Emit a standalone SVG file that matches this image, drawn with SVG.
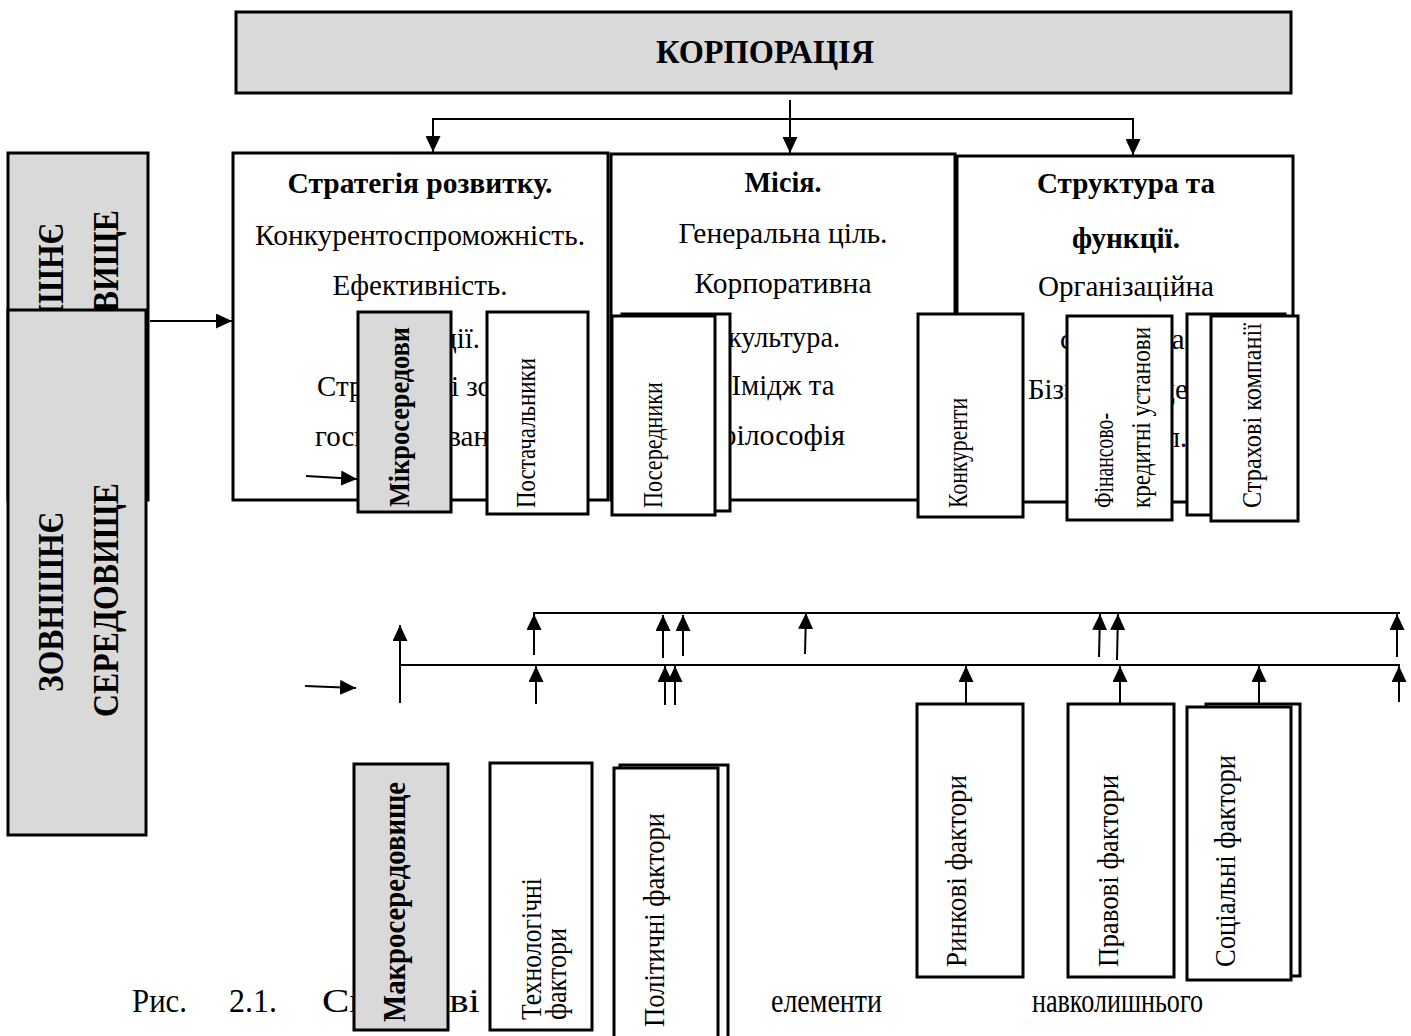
<svg xmlns="http://www.w3.org/2000/svg" width="1411" height="1036" viewBox="0 0 1411 1036">
<defs>
<marker id="ah" markerUnits="userSpaceOnUse" markerWidth="16" markerHeight="15" refX="16" refY="7.5" orient="auto">
<path d="M0,0 L16,7.5 L0,15 z" fill="#000"/>
</marker>
<style>
.bx{fill:#fff;stroke:#000;stroke-width:3}
.gx{fill:#d9d9d9;stroke:#000;stroke-width:3}
.t{font-family:"Liberation Serif","Times New Roman",serif;font-size:30px;fill:#000}
.b{font-weight:bold}
.c{text-anchor:middle}
.cap{font-size:34px}
.big{font-size:35px}
.r{font-family:"Liberation Serif","Times New Roman",serif;font-size:28px;fill:#000}
.r2{font-family:"Liberation Serif","Times New Roman",serif;font-size:29px;fill:#000}
.ln{stroke:#000;stroke-width:2;fill:none}
.ar{stroke:#000;stroke-width:2;fill:none;marker-end:url(#ah)}
</style>
</defs>
<rect width="1411" height="1036" fill="#fff"/>

<g id="caption">
<text class="t cap" x="132" y="1012" textLength="55" lengthAdjust="spacingAndGlyphs">Рис.</text>
<text class="t cap" x="229" y="1012" textLength="48" lengthAdjust="spacingAndGlyphs">2.1.</text>
<text class="t cap" x="322" y="1012" textLength="158" lengthAdjust="spacingAndGlyphs">Складові</text>
<text class="t cap" x="771" y="1012" textLength="111" lengthAdjust="spacingAndGlyphs">елементи</text>
<text class="t cap" x="1032" y="1012" textLength="171" lengthAdjust="spacingAndGlyphs">навколишнього</text>
</g>

<g id="korporatsiia">
<rect class="gx" x="236" y="12" width="1055" height="81"/>
<text class="t b c cap" x="765" y="63" textLength="218" lengthAdjust="spacingAndGlyphs">КОРПОРАЦІЯ</text>
</g>

<g id="env-upper">
<rect class="gx" x="8" y="153" width="140" height="347"/>
<text class="t b big" transform="translate(63,403) rotate(-90)" textLength="180" lengthAdjust="spacingAndGlyphs">ЗОВНІШНЄ</text>
<text class="t b big" transform="translate(118,444) rotate(-90)" textLength="234" lengthAdjust="spacingAndGlyphs">СЕРЕДОВИЩЕ</text>
</g>

<g id="strategy">
<rect class="bx" x="233" y="153" width="375" height="347"/>
<text class="t b c" x="420" y="193" textLength="265" lengthAdjust="spacingAndGlyphs">Стратегія розвитку.</text>
<text class="t c" x="420" y="245" textLength="330" lengthAdjust="spacingAndGlyphs">Конкурентоспроможність.</text>
<text class="t c" x="420" y="295" textLength="175" lengthAdjust="spacingAndGlyphs">Ефективність.</text>
<text class="t c" x="420" y="348" textLength="120" lengthAdjust="spacingAndGlyphs">Інновації.</text>
<text class="t c" x="420" y="396" textLength="206" lengthAdjust="spacingAndGlyphs">Стратегічні зони</text>
<text class="t c" x="420" y="446" textLength="210" lengthAdjust="spacingAndGlyphs">господарювання.</text>
</g>

<g id="mission">
<rect class="bx" x="611" y="154" width="344" height="346"/>
<text class="t b c" x="783" y="192" textLength="77" lengthAdjust="spacingAndGlyphs">Місія.</text>
<text class="t c" x="783" y="243" textLength="209" lengthAdjust="spacingAndGlyphs">Генеральна ціль.</text>
<text class="t c" x="783" y="293" textLength="177" lengthAdjust="spacingAndGlyphs">Корпоративна</text>
<text class="t c" x="784" y="347" textLength="112" lengthAdjust="spacingAndGlyphs">культура.</text>
<text class="t c" x="783" y="395" textLength="103" lengthAdjust="spacingAndGlyphs">Імідж та</text>
<text class="t c" x="781" y="445" textLength="128" lengthAdjust="spacingAndGlyphs">філософія</text>
</g>

<g id="structure">
<rect class="bx" x="957" y="156" width="336" height="346"/>
<text class="t b c" x="1126" y="193" textLength="178" lengthAdjust="spacingAndGlyphs">Структура та</text>
<text class="t b c" x="1126" y="248" textLength="108" lengthAdjust="spacingAndGlyphs">функції.</text>
<text class="t c" x="1126" y="296" textLength="176" lengthAdjust="spacingAndGlyphs">Організаційна</text>
<text class="t c" x="1126" y="349" textLength="132" lengthAdjust="spacingAndGlyphs">структура.</text>
<text class="t c" x="1126" y="399" textLength="196" lengthAdjust="spacingAndGlyphs">Бізнес-процеси.</text>
<text class="t c" x="1126" y="447" textLength="122" lengthAdjust="spacingAndGlyphs">Персонал.</text>
</g>

<g id="env-lower">
<rect class="gx" x="8" y="310" width="138" height="525"/>
<text class="t b big" transform="translate(63,692) rotate(-90)" textLength="180" lengthAdjust="spacingAndGlyphs">ЗОВНІШНЄ</text>
<text class="t b big" transform="translate(118,717) rotate(-90)" textLength="234" lengthAdjust="spacingAndGlyphs">СЕРЕДОВИЩЕ</text>
</g>

<g id="micro">
<rect class="gx" x="358" y="312" width="93" height="200"/>
<text class="t b" transform="translate(409,507) rotate(-90)" textLength="180" lengthAdjust="spacingAndGlyphs">Мікросередови</text>
</g>
<g id="suppliers">
<rect class="bx" x="487" y="312" width="101" height="202"/>
<text class="r" transform="translate(535,508) rotate(-90)" textLength="150" lengthAdjust="spacingAndGlyphs">Постачальники</text>
</g>
<g id="intermediaries">
<rect class="bx" x="622" y="314" width="108" height="197"/>
<rect class="bx" x="612" y="316" width="103" height="199"/>
<text class="r" transform="translate(662,508) rotate(-90)" textLength="126" lengthAdjust="spacingAndGlyphs">Посередники</text>
</g>
<g id="competitors">
<rect class="bx" x="918" y="314" width="105" height="203"/>
<text class="r" transform="translate(967,508) rotate(-90)" textLength="110" lengthAdjust="spacingAndGlyphs">Конкуренти</text>
</g>
<g id="finance">
<rect class="bx" x="1067" y="316" width="105" height="204"/>
<text class="r" transform="translate(1113,508) rotate(-90)" textLength="95" lengthAdjust="spacingAndGlyphs">Фінансово-</text>
<text class="r" transform="translate(1150,508) rotate(-90)" textLength="181" lengthAdjust="spacingAndGlyphs">кредитні установи</text>
</g>
<g id="insurance">
<rect class="bx" x="1187" y="314" width="98" height="201"/>
<rect class="bx" x="1211" y="316" width="87" height="205"/>
<text class="r" transform="translate(1261,508) rotate(-90)" textLength="185" lengthAdjust="spacingAndGlyphs">Страхові компанії</text>
</g>

<g id="macro">
<rect class="gx" x="354" y="764" width="94" height="266"/>
<text class="t b" style="font-size:31px" transform="translate(405,1022) rotate(-90)" textLength="240" lengthAdjust="spacingAndGlyphs">Макросередовище</text>
</g>
<g id="tech">
<rect class="bx" x="490" y="763" width="102" height="267"/>
<text class="r2" transform="translate(541,1020) rotate(-90)" textLength="142" lengthAdjust="spacingAndGlyphs">Технологічні</text>
<text class="r2" transform="translate(566,1020) rotate(-90)" textLength="92" lengthAdjust="spacingAndGlyphs">фактори</text>
</g>
<g id="political">
<rect class="bx" x="620" y="765" width="108" height="280"/>
<rect class="bx" x="614" y="768" width="104" height="280"/>
<text class="r2" transform="translate(664,1027) rotate(-90)" textLength="214" lengthAdjust="spacingAndGlyphs">Політичні фактори</text>
</g>
<g id="market">
<rect class="bx" x="917" y="704" width="106" height="273"/>
<text class="r2" transform="translate(966,967) rotate(-90)" textLength="192" lengthAdjust="spacingAndGlyphs">Ринкові фактори</text>
</g>
<g id="legal">
<rect class="bx" x="1068" y="704" width="106" height="273"/>
<text class="r2" transform="translate(1118,967) rotate(-90)" textLength="192" lengthAdjust="spacingAndGlyphs">Правові фактори</text>
</g>
<g id="social">
<rect class="bx" x="1206" y="704" width="94" height="272"/>
<rect class="bx" x="1187" y="707" width="104" height="273"/>
<text class="r2" transform="translate(1235,967) rotate(-90)" textLength="212" lengthAdjust="spacingAndGlyphs">Соціальні фактори</text>
</g>

<g id="connectors">
<line class="ar" x1="790" y1="100" x2="790" y2="153"/>
<line class="ln" x1="433" y1="119" x2="1133" y2="119"/>
<line class="ar" x1="433" y1="118" x2="433" y2="152"/>
<line class="ar" x1="1133" y1="118" x2="1133" y2="155"/>
<line class="ar" x1="150" y1="321" x2="232" y2="321"/>
<line class="ar" x1="306" y1="476" x2="357" y2="479"/>
<line class="ar" x1="305" y1="686" x2="356" y2="688"/>
<line class="ln" x1="533" y1="613" x2="1400" y2="613"/>
<line class="ln" x1="399" y1="665" x2="1400" y2="665"/>
<line class="ar" x1="400" y1="703" x2="400" y2="625"/>
<line class="ar" x1="534" y1="655" x2="534" y2="614"/>
<line class="ar" x1="536" y1="704" x2="536" y2="666"/>
<line class="ar" x1="663" y1="658" x2="663" y2="615"/>
<line class="ar" x1="683" y1="656" x2="683" y2="615"/>
<line class="ar" x1="805" y1="654" x2="806" y2="613"/>
<line class="ar" x1="665" y1="705" x2="665" y2="666"/>
<line class="ar" x1="675" y1="705" x2="675" y2="666"/>
<line class="ar" x1="1099" y1="657" x2="1100" y2="614"/>
<line class="ar" x1="1117" y1="660" x2="1118" y2="614"/>
<line class="ar" x1="1397" y1="657" x2="1397" y2="614"/>
<line class="ar" x1="966" y1="704" x2="966" y2="666"/>
<line class="ar" x1="1120" y1="704" x2="1120" y2="666"/>
<line class="ar" x1="1259" y1="704" x2="1259" y2="666"/>
<line class="ar" x1="1399" y1="702" x2="1399" y2="666"/>
</g>
</svg>
